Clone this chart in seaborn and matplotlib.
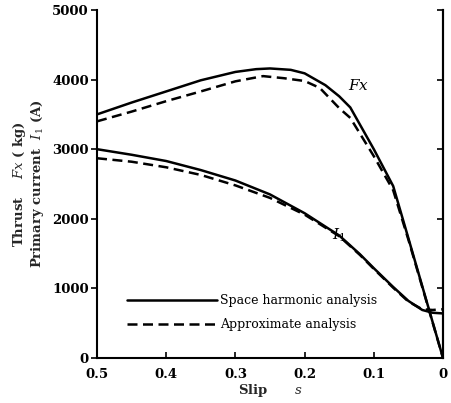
import matplotlib
matplotlib.use("Agg")
import matplotlib.pyplot as plt
import seaborn as sns
import pandas as pd

sns.set_theme(style="white")
plt.rcParams['font.family'] = ['DejaVu Serif']
plt.rcParams['mathtext.fontset'] = 'dejavuserif'

# Thrust Fx (kg)
fx_s_solid = [0.5, 0.45, 0.4, 0.35, 0.3, 0.27, 0.25, 0.22, 0.2, 0.17, 0.15, 0.134, 0.1, 0.072, 0.05, 0.025, 0.0]
fx_solid = [3500, 3670, 3830, 3990, 4110, 4150, 4160, 4140, 4090, 3920, 3760, 3600, 3000, 2470, 1720, 860, 0]
fx_s_dash = [0.5, 0.45, 0.4, 0.35, 0.3, 0.26, 0.23, 0.2, 0.178, 0.15, 0.134, 0.1, 0.072, 0.05, 0.025, 0.0]
fx_dash = [3400, 3540, 3690, 3830, 3975, 4050, 4020, 3980, 3880, 3590, 3450, 2900, 2410, 1700, 850, 0]

# Primary current I1 (A)
i1_s = [0.5, 0.45, 0.4, 0.35, 0.3, 0.25, 0.2, 0.15, 0.12, 0.1, 0.072, 0.05, 0.03, 0.015, 0.0]
i1_solid = [3000, 2920, 2830, 2700, 2550, 2350, 2080, 1760, 1490, 1290, 1020, 820, 690, 650, 640]
i1_dash = [2870, 2820, 2740, 2630, 2480, 2300, 2060, 1750, 1480, 1280, 1010, 810, 700, 690, 700]

x_ticks = [0.5, 0.4, 0.3, 0.2, 0.1, 0.0]
x_tick_labels = ["0.5", "0.4", "0.3", "0.2", "0.1", "0"]
y_ticks = [0, 1000, 2000, 3000, 4000, 5000]

fig = plt.figure(figsize=(4.52, 4.03), dpi=100)
ax = fig.add_axes([0.2146, 0.1117, 0.7655, 0.8635])

lw = 1.8
dash = (4, 2.2)
sns.lineplot(x=fx_s_solid, y=fx_solid, ax=ax, color="black", lw=lw, label="Space harmonic analysis", sort=False)
sns.lineplot(x=fx_s_dash, y=fx_dash, ax=ax, color="black", lw=lw, label="Approximate analysis", sort=False)
sns.lineplot(x=i1_s, y=i1_solid, ax=ax, color="black", lw=lw, sort=False)
sns.lineplot(x=i1_s, y=i1_dash, ax=ax, color="black", lw=lw, sort=False)
ax.lines[1].set_dashes(dash)
ax.lines[3].set_dashes(dash)

ax.set_xlim(0.5, 0.0)
ax.set_ylim(0, 5000)
ax.set_xticks(x_ticks)
ax.set_xticklabels(x_tick_labels)
ax.set_yticks(y_ticks)

for sp in ["left", "bottom", "right"]:
    ax.spines[sp].set_visible(True)
    ax.spines[sp].set_color("black")
    ax.spines[sp].set_linewidth(1.5)
ax.spines["top"].set_visible(False)

ax.tick_params(axis="y", which="both", left=True, right=False, direction="out", length=4, width=1.2,
               labelsize=9.5, pad=2, colors="black")
ax.tick_params(axis="x", which="both", bottom=True, direction="in", length=4, width=1.2,
               labelsize=9.5, pad=7, colors="black")
for t in ax.get_xticklabels() + ax.get_yticklabels():
    t.set_fontweight("bold")

sec = ax.secondary_yaxis("right")
sec.set_yticks(y_ticks)
sec.tick_params(axis="y", direction="in", length=4, width=1.2, labelright=False, colors="black")
sec.spines["right"].set_linewidth(1.5)
sec.spines["right"].set_color("black")

ax.set_xlabel("Slip      $\\mathit{s}$", fontsize=9.5, fontweight="bold", labelpad=1)
ax.set_ylabel("Thrust    $\\mathit{Fx}$ ( kg)\nPrimary current  $\\mathit{I}_1$ (A)",
              fontsize=9.5, fontweight="bold", labelpad=4, linespacing=1.1)

ax.text(0.138, 3850, "$\\mathit{Fx}$", fontsize=11, color="black")
ax.text(0.16, 1700, "$\\mathit{I}_1$", fontsize=11, color="black")

leg = ax.legend(loc="lower left", bbox_to_anchor=(0.055, 0.045), frameon=False, fontsize=9,
                handlelength=7.2, handletextpad=0.2, labelspacing=0.85)
for t in leg.get_texts():
    t.set_color("black")

fig.savefig("out.png", dpi=100, facecolor="white")
